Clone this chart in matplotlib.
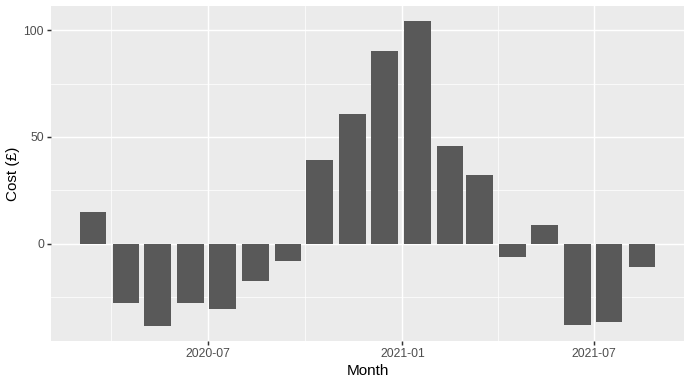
import matplotlib
matplotlib.use("Agg")
import matplotlib.pyplot as plt
import matplotlib.dates as mdates
import numpy as np
import datetime as dt

months = ["2020-03", "2020-04", "2020-05", "2020-06", "2020-07", "2020-08",
          "2020-09", "2020-10", "2020-11", "2020-12", "2021-01", "2021-02",
          "2021-03", "2021-04", "2021-05", "2021-06", "2021-07", "2021-08"]
cost = [15.0, -28.1, -38.7, -28.1, -30.7, -17.5, -8.2, 39.0, 60.8, 90.3,
        104.2, 45.7, 32.1, -6.4, 8.9, -38.4, -36.8, -10.8]
x_ticks = ["2020-07", "2021-01", "2021-07"]
x_minor = ["2020-04", "2020-10", "2021-04"]
y_ticks = [0, 50, 100]
y_minor = [-25, 25, 75]

plt.rcParams['font.family'] = ['Liberation Sans', 'DejaVu Sans']

def to_date(s, day=1):
    y, m = s.split("-")
    return dt.datetime(int(y), int(m), day)

dates = [to_date(m, 15) for m in months]
xnum = mdates.date2num(dates)
width = 0.9 * 28  # days

fig = plt.figure(figsize=(6.9, 3.83), dpi=100)
ax = fig.add_axes([51/690, 1 - 341.3/383, (684-51)/690, (341.3-6)/383])
ax.set_facecolor("#EBEBEB")

ax.bar(xnum, cost, width=width, color="#595959", zorder=3, linewidth=0)

# limits with 5% expansion
lo = xnum.min() - width/2
hi = xnum.max() + width/2
pad = 0.05 * (hi - lo)
ax.set_xlim(lo - pad, hi + pad)
ymin, ymax = min(cost), max(cost)
ypad = 0.05 * (ymax - ymin)
ax.set_ylim(ymin - ypad, ymax + ypad)

ax.set_xticks(mdates.date2num([to_date(s) for s in x_ticks]))
ax.set_xticklabels(x_ticks)
ax.set_xticks(mdates.date2num([to_date(s) for s in x_minor]), minor=True)
ax.set_yticks(y_ticks)
ax.set_yticklabels([str(v) for v in y_ticks])
ax.set_yticks(y_minor, minor=True)

ax.grid(which="major", color="white", linewidth=1.07, zorder=1)
ax.grid(which="minor", color="white", linewidth=0.53, zorder=1)
ax.set_axisbelow(True)
for s in ax.spines.values():
    s.set_visible(False)

ax.tick_params(which="major", length=2.75, width=1.07, color="#333333",
               labelcolor="#4D4D4D", labelsize=8.8, pad=2.2)
ax.tick_params(which="minor", length=0)

ax.set_xlabel("Month", fontsize=11, color="black", labelpad=2.75)
ax.set_ylabel("Cost (£)", fontsize=11, color="black", labelpad=2.75)

fig.savefig("out.png", dpi=100)
